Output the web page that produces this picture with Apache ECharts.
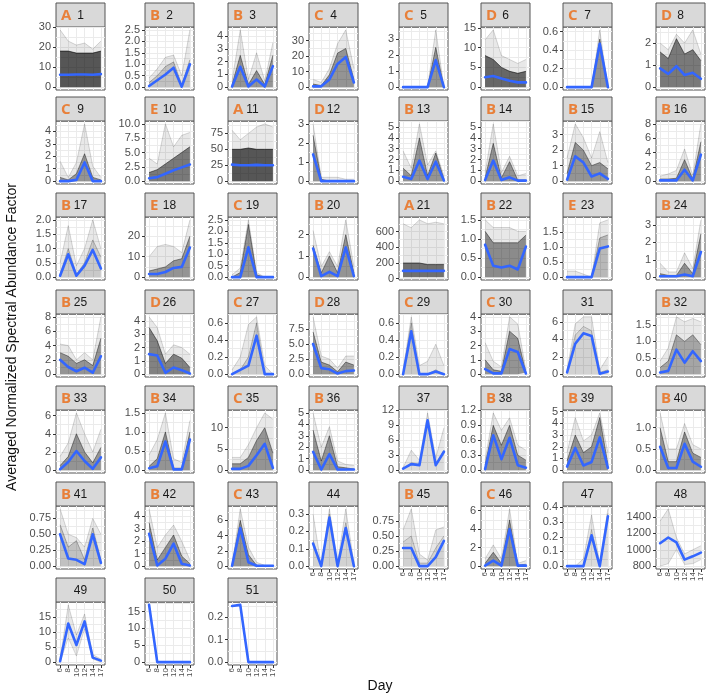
<!DOCTYPE html>
<html><head><meta charset="utf-8">
<script src="https://cdn.jsdelivr.net/npm/echarts@6/dist/echarts.min.js"></script>
<style>html,body{margin:0;padding:0;background:#fff}#c{width:709px;height:696px}</style>
</head><body><div id="c"></div>
<script>
// ---------- DATA ----------
const days = ['6','8','10','12','14','17'];
const panelLabels = Array.from({length:51},(_,i)=>String(i+1));
const groupLetters = ['A','B','B','C','C','D','C','D',
 'C','E','A','D','B','B','B','B',
 'B','E','C','B','A','B','E','B',
 'B','D','C','D','C','C','','B',
 'B','B','C','B','','B','B','B',
 'B','B','C','','B','C','','',
 '','',''];
const yTickLabels = [
 ['0','10','20','30'],['0.0','0.5','1.0','1.5','2.0','2.5'],['0','1','2','3','4'],['0','10','20','30'],
 ['0','1','2','3'],['0','5','10','15'],['0.0','0.2','0.4','0.6'],['0','1','2'],
 ['0','1','2','3','4'],['0.0','2.5','5.0','7.5','10.0'],['0','25','50','75'],['0','1','2','3'],
 ['0','1','2','3','4','5'],['0','1','2','3','4','5'],['0','1','2','3'],['0','2','4','6','8'],
 ['0.0','0.5','1.0','1.5','2.0'],['0','10','20'],['0.0','0.5','1.0','1.5','2.0','2.5'],['0','1','2'],
 ['0','200','400','600'],['0.0','0.5','1.0','1.5'],['0.0','0.5','1.0','1.5'],['0','1','2','3'],
 ['0','2','4','6','8'],['0','1','2','3','4'],['0.0','0.2','0.4','0.6'],['0.0','2.5','5.0','7.5'],
 ['0.0','0.2','0.4','0.6'],['0','1','2','3','4'],['0','2','4','6'],['0.0','0.5','1.0','1.5'],
 ['0','2','4','6'],['0.0','0.5','1.0','1.5'],['0','5','10'],['0','1','2','3','4','5'],
 ['0','3','6','9','12'],['0.0','0.3','0.6','0.9','1.2'],['0','1','2','3','4','5'],['0.0','0.5','1.0'],
 ['0.00','0.25','0.50','0.75'],['0','1','2','3','4'],['0','2','4','6'],['0.0','0.1','0.2','0.3'],
 ['0.00','0.25','0.50','0.75'],['0','2','4','6'],['0.0','0.1','0.2','0.3','0.4'],['800','1000','1200','1400'],
 ['0','5','10','15'],['0','5','10','15'],['0.0','0.1','0.2']
];
// blue average profile per cluster
const meanValues = [
 [6.2,6.2,6.3,6.3,6.2,6.5],[0.05,0.3,0.55,0.85,0.02,1.0],[0.05,1.6,0.05,0.6,0.05,1.65],[0.5,0.5,5,15,19.5,3],
 [0,0,0,0,1.7,0],[2.5,2.8,2.2,1.6,1.2,1.2],[0,0,0,0,0.47,0],[0.85,0.6,0.95,0.55,0.65,0.38],
 [0,0,0.1,1.5,0,0],[0.5,0.7,1.3,1.9,2.4,2.9],[26,25,25,25.5,25,25],[1.4,0,0,0,0,0],
 [0.4,0.2,1.9,0.2,1.8,0.05],[0.1,1.9,0.1,0.35,0.05,0.05],[0.1,1.6,1.2,0.3,0.5,0.15],[0.1,0.1,0.1,1.6,0.1,3.7],
 [0.05,0.8,0.05,0.4,0.95,0.3],[1.5,1.5,2.5,4.5,5,14.5],[0,0,1.3,0,0,0],[1.35,0.05,0.25,0.05,1.4,0.05],
 [100,100,100,100,100,100],[0.85,0.3,0.25,0.3,0.2,0.8],[0,0,0,0,0.95,1.02],[0.05,0.05,0.05,0.15,0.05,1.45],
 [2.0,1.0,0.4,0.9,0.2,2.5],[1.5,1.4,0.1,0.5,0.3,0.05],[0,0.05,0.1,0.45,0,0],[5.0,1.0,0.8,0.1,0.5,0.6],
 [0,0.5,0,0,0.03,0],[0.35,0.05,0.05,1.75,1.55,0.05],[0.2,3.5,4.7,4.4,0.05,0.3],[0.05,0.1,0.75,0.35,0.7,0.4],
 [0.1,0.9,2.1,1.0,0.15,1.4],[0.05,0.1,0.75,0.02,0.02,0.8],[0.3,0.3,1,3.5,6.2,0.5],[1.6,0.05,1.4,0.05,0.05,0.05],
 [0.3,1.2,1.0,10,1.0,3.7],[0.02,0.7,0.22,0.65,0.1,0.05],[0.3,1.9,0.4,0.7,2.8,0.2],[0.55,0.05,0.05,0.62,0.2,0.08],
 [0.5,0.12,0.1,0.03,0.5,0.05],[2.6,0.05,0.6,1.8,0.2,0.05],[0.05,5.0,0.5,0.05,0.05,0.05],[0.13,0,0.28,0,0.22,0],
 [0.3,0.3,0,0,0.15,0.42],[0.05,0.6,0.05,4.0,0.05,0.05],[0,0,0,0.21,0,0.34],[1080,1150,1090,880,920,965],
 [0.3,12.8,5.7,13.5,1.5,0.5],[17,0,0,0,0,0],[0.25,0.255,0,0,0,0]
];
// upper edge of the individual profiles
const upperValues = [
 [28.6,23,21,22,19,23],[0.4,0.8,1.3,1.4,0.5,2.5],[0.5,4.5,0.6,2.7,0.5,3.5],[5,3,12,28,37,12],
 [0,0,0,0,3.6,0],[12,14.5,8,7,6,7],[0,0,0,0,0.62,0],[2,1.7,2.4,2.0,2.6,1.5],
 [1.6,0.3,1.5,4.6,1.2,0.3],[4,3,10,6,8,8.5],[80,65,75,85,90,85],[3,0.2,0.2,0.2,0.1,0.1],
 [2.8,1.2,5.3,1.5,2.8,0.5],[0.8,5.3,0.8,2.3,0.5,0.7],[1.5,3.7,2.8,1.5,3.2,1.2],[0.7,1.0,1.5,4.5,0.8,8],
 [0.5,1.8,0.4,1.0,2.0,1.0],[10,15,16,15,12,28],[0.1,0.4,2.5,0.2,0,0],[2.2,0.5,1.2,0.5,2.7,0.5],
 [700,650,750,700,720,700],[1.5,1.3,1.3,1.3,1.2,1.2],[0.2,0.2,0.1,0,1.8,1.9],[0.8,0.3,0.3,1.4,0.5,3.3],
 [4.2,4,2,3,2,8],[4.3,3.5,1.5,2.2,2,1.5],[0.05,0.2,0.58,0.67,0.1,0],[9.5,3,2.5,1,3,3],
 [0.05,0.67,0.1,0.15,0.35,0.1],[2.2,0.9,0.5,4,3.5,0.3],[0.5,5.8,6.6,6.6,0.5,2],[0.4,0.8,1.75,1.6,1.7,1.6],
 [1.5,3,6.3,4,2,4.5],[0.4,0.8,1.5,0.3,0.2,1.3],[3,3,6,10,13.5,12],[5,2,3.8,0.8,0.5,0.4],
 [0.5,4,2,11.5,2.5,8.5],[0.2,1.15,0.8,1.05,0.5,0.4],[1.5,4.5,2.5,3,4.9,1.5],[1.35,0.5,0.5,1.1,0.6,0.5],
 [0.9,0.5,0.45,0.3,0.75,0.5],[4.6,1.5,2.5,3.3,2,0.5],[0.2,7.5,2.5,0.5,0.1,0.1],[0.3,0,0.33,0.02,0.33,0.02],
 [0.6,0.95,0.2,0.1,0.6,0.65],[0.8,2.3,0.8,6.2,0.3,0.6],[0,0,0.05,0.35,0.02,0.39],[1350,1500,1150,950,1000,1050],
 [1,19,9,16,2.5,1],[17,0,0,0,0,0],[0.25,0.255,0,0,0,0]
];
// upper edge of the dense (dark) bundle of profiles
const coreValues = [
 [18,18,17,17,17,18],[0.2,0.5,0.9,1.1,0.1,1.2],[0.2,2.5,0.2,1.3,0.2,2.5],[2,1,8,22,25,5],
 [0,0,0,0,2.5,0],[8,7,5,4,3.5,4],[0,0,0,0,0.52,0],[1.6,1.3,2.2,1.5,1.7,1.2],
 [0.3,0.1,0.6,2.2,0.3,0.1],[1.5,2,3,4,5,6],[50,50,52,50,50,50],[2.4,0.1,0,0,0,0],
 [1.2,0.5,4,0.5,2.6,0.2],[0.3,3.5,0.3,1.8,0.1,0.1],[0.5,2.5,2.0,1.0,1.2,0.8],[0.3,0.3,0.4,3,0.3,5.5],
 [0.1,1.0,0.1,0.5,1.3,0.7],[3,4,5,8,9,20],[0,0.2,2.3,0.1,0,0],[1.5,0.2,1,0.2,2,0.2],
 [200,200,200,180,180,180],[1.2,0.9,0.9,0.9,0.9,1.1],[0,0,0,0,1.3,1.4],[0.2,0.1,0.1,0.8,0.2,2.5],
 [3,2.5,1.5,2,1.2,5],[3.5,2.5,0.8,1.5,1.2,0.5],[0,0.05,0.2,0.6,0,0],[7,2,1.5,0.4,2,1.5],
 [0,0.6,0,0,0.05,0],[1,0.3,0.2,3,2.5,0.1],[0.3,4.5,5.5,5,0.2,0.5],[0.2,0.4,1.2,1,1.2,0.9],
 [0.5,1.5,4,2,0.8,2.5],[0.1,0.3,1.0,0.05,0.05,1.0],[1.5,1.5,3,7,10,4],[3.5,0.8,3,0.3,0.2,0.1],
 [0.3,1.5,1.2,10,1.2,4],[0.1,0.9,0.5,0.9,0.3,0.2],[0.8,3,1.5,2,4.5,0.5],[1.0,0.2,0.2,0.9,0.4,0.3],
 [0.65,0.3,0.4,0.1,0.6,0.1],[3.5,0.5,1.5,2.5,0.8,0.2],[0.1,6,1.5,0.1,0.05,0.05],[0.15,0,0.3,0,0.25,0],
 [0.4,0.5,0.05,0.05,0.3,0.5],[0.3,1.5,0.3,5,0.1,0.2],[0,0,0,0.25,0,0.36],[800,830,1000,820,830,880],
 [0,8,2,11,1,0],[17,0,0,0,0,0],[0.25,0.255,0,0,0,0]
];
// lower edge where it is not zero
const lowerValues = {
 21:[20,20,20,20,20,20],
 48:[800,830,1000,820,830,880],
 49:[0,8,2,11,1,0],
 50:[17,0,0,0,0,0],
 51:[0.25,0.255,0,0,0,0]
};

// ---------- LAYOUT / STYLE ----------
const COLS=[56,145,228,309,399,481,563,656], PW=49;
const ROWS=[3,97,193,290,386,482,578], SH=24, PH=63;
const coreAlpha = {1:0.95,11:0.95,6:0.85,8:0.75,21:0.8,10:0.75,22:0.65,26:0.7,
  2:0.35,17:0.3,45:0.25,47:0.2,48:0.12,49:0.12,44:0.25,37:0.2,31:0.25,41:0.35,27:0.3,29:0.3,23:0.4,32:0.5};
const FONT='"Liberation Sans", Arial, sans-serif';

const grids=[], xAxes=[], yAxes=[], series=[], graphics=[];
for(let i=0;i<51;i++){
  const pn=i+1, row=Math.floor(i/8), col=i%8;
  const left=COLS[col], top=ROWS[row]+SH;
  const isBottom = i>=43;
  const lo = lowerValues[pn] || [0,0,0,0,0,0];
  const hi = upperValues[i], core = coreValues[i], mean = meanValues[i];
  const all = lo.concat(hi, core, mean);
  const dmin=Math.min(...all), dmax=Math.max(...all), r=(dmax-dmin)||1;
  const ymin=dmin-0.05*r, ymax=dmax+0.05*r;
  const labels=yTickLabels[i], brk=labels.map(Number);
  const step=brk[1]-brk[0];
  const gridVals=[];
  for(let v=brk[0]-step; v<=brk[brk.length-1]+step+1e-9; v+=step/2){
    const vv=+v.toFixed(6); if(vv>=ymin && vv<=ymax) gridVals.push(vv);
  }
  const labMap={}; labels.forEach(l=>labMap[String(Number(l))]=l);
  grids.push({left:left, top:top, width:PW, height:PH, show:true, backgroundColor:'#fff', borderColor:'#555', borderWidth:1, containLabel:false});
  // category axis used by the series
  xAxes.push({type:'category', gridIndex:i, data:days, boundaryGap:true, show:false});
  // value axis for grid lines, ticks and labels
  xAxes.push({type:'value', gridIndex:i, min:0.5, max:6.5, position:'bottom',
    axisLine:{show:false,onZero:false},
    axisTick:{show:isBottom, customValues:[1,2,3,4,5,6], length:3, lineStyle:{color:'#333'}},
    axisLabel:{show:isBottom, customValues:[1,2,3,4,5,6], rotate:90, fontSize:8, margin:3, color:'#4d4d4d', fontFamily:FONT,
      formatter:v=>days[Math.round(v)-1]},
    splitLine:{show:true, lineStyle:{color:'#ebebeb', width:1}}});
  // y grid-line axis
  yAxes.push({type:'value', gridIndex:i, min:ymin, max:ymax, position:'left',
    axisLine:{show:false,onZero:false}, axisLabel:{show:false},
    axisTick:{show:false, customValues:gridVals},
    splitLine:{show:true, lineStyle:{color:'#ebebeb', width:1}}});
  // y tick/label axis
  yAxes.push({type:'value', gridIndex:i, min:ymin, max:ymax, position:'left',
    axisLine:{show:false,onZero:false}, splitLine:{show:false},
    axisTick:{show:true, customValues:brk, length:3, lineStyle:{color:'#333'}},
    axisLabel:{show:true, customValues:brk, fontSize:11, margin:5, color:'#4d4d4d', fontFamily:FONT,
      formatter:v=>labMap[String(+(+v).toFixed(6))]||String(v)}});
  const xi=2*i, yi=2*i+1, st='s'+i;
  const a=coreAlpha[pn]!==undefined?coreAlpha[pn]:0.6;
  series.push({type:'line', xAxisIndex:xi, yAxisIndex:yi, stack:st, data:lo, symbol:'none', silent:true,
    lineStyle:{width:0, opacity:0}});
  series.push({type:'line', xAxisIndex:xi, yAxisIndex:yi, stack:st, data:core.map((v,k)=>Math.max(v-lo[k],0)), symbol:'none', silent:true,
    lineStyle:{width:0.6, color:'rgba(0,0,0,'+Math.min(a+0.1,1)+')'}, areaStyle:{color:'rgba(0,0,0,'+a+')'}});
  series.push({type:'line', xAxisIndex:xi, yAxisIndex:yi, stack:st, data:hi.map((v,k)=>Math.max(v-Math.max(core[k],lo[k]),0)), symbol:'none', silent:true,
    lineStyle:{width:0.6, color:'rgba(0,0,0,0.25)'}, areaStyle:{color:'rgba(0,0,0,0.13)'}});
  series.push({type:'line', xAxisIndex:xi, yAxisIndex:yi, data:mean, symbol:'none', silent:true, z:5,
    lineStyle:{width:2.6, color:'#3366FF', join:'round', cap:'round'}});
  // strip
  const sx=left, sy=ROWS[row];
  graphics.push({type:'rect', shape:{x:sx, y:sy, width:PW, height:SH}, style:{fill:'#d9d9d9', stroke:'#555', lineWidth:1}, silent:true});
  graphics.push({type:'text', x:sx+PW/2, y:sy+SH/2+1, style:{text:panelLabels[i], fontSize:12, fontFamily:FONT, fill:'#1a1a1a', align:'center', verticalAlign:'middle'}, silent:true});
  if(groupLetters[i]){
    graphics.push({type:'text', x:sx+5, y:sy+SH/2+1, style:{text:groupLetters[i], fontSize:15, fontWeight:'bold', fontFamily:'"Open Sans", "Liberation Sans", sans-serif', fill:'#E8803A', align:'left', verticalAlign:'middle'}, silent:true});
  }
}
graphics.push({type:'text', x:12, y:337, rotation:Math.PI/2, style:{text:'Averaged Normalized Spectral Abundance Factor', fontSize:14, fontFamily:FONT, fill:'#111', align:'center', verticalAlign:'middle'}, silent:true});
graphics.push({type:'text', x:380, y:686, style:{text:'Day', fontSize:14, fontFamily:FONT, fill:'#111', align:'center', verticalAlign:'middle'}, silent:true});

const chart=echarts.init(document.getElementById('c'),null,{renderer:'canvas'});
chart.setOption({animation:false, backgroundColor:'#fff', grid:grids, xAxis:xAxes, yAxis:yAxes, series:series, graphic:{elements:graphics}});
</script></body></html>
